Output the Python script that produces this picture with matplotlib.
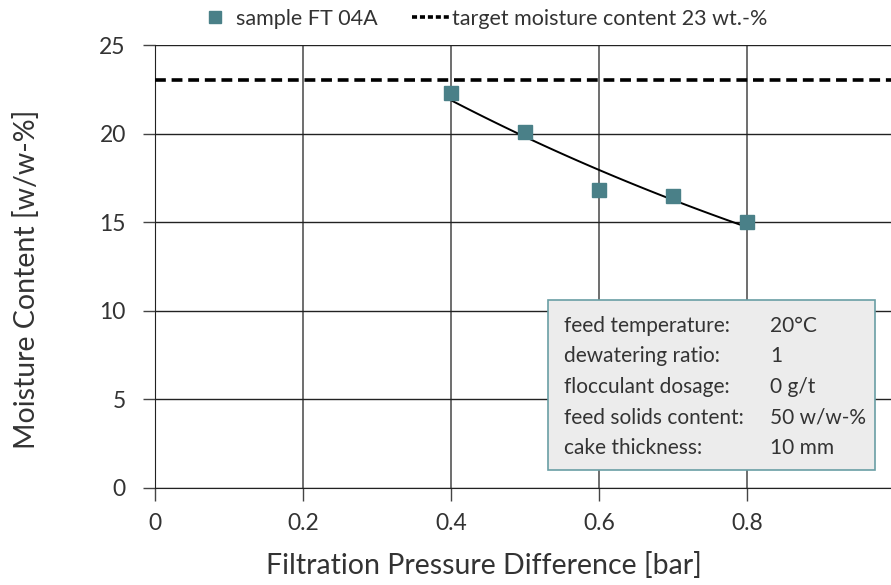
import numpy as np
import matplotlib.pyplot as plt
from matplotlib.lines import Line2D

# measured data
pressure = [0.4, 0.5, 0.6, 0.7, 0.8]
moisture = [22.3, 20.1, 16.8, 16.5, 15.0]
target = 23

box_labels = ["feed temperature:", "dewatering ratio:", "flocculant dosage:",
              "feed solids content:", "cake thickness:"]
box_values = ["20°C", "1", "0 g/t", "50 w/w-%", "10 mm"]

xticks = [0, 0.2, 0.4, 0.6, 0.8]
yticks = [0, 5, 10, 15, 20, 25]

plt.rcParams['font.family'] = ['Lato', 'DejaVu Sans']
textcol = '#333333'
teal = '#4a8088'

fig = plt.figure(figsize=(8.91, 5.85), dpi=100)
ax = fig.add_axes([155 / 891, 97 / 585, 740 / 891, 443 / 585])

# exponential trend line through the points
coef = np.polyfit(pressure, np.log(moisture), 1)
xf = np.linspace(pressure[0], pressure[-1], 100)
yf = np.exp(coef[1]) * np.exp(coef[0] * xf)

ax.axhline(target, color='black', lw=2.6, ls=(0, (3, 1.6)), zorder=3)
ax.plot(xf, yf, color='black', lw=1.4, zorder=4)
ax.plot(pressure, moisture, 's', color=teal, ms=9.5, zorder=5)

ax.set_xlim(0, 1.0)
ax.set_ylim(0, 25)
ax.set_xticks(xticks)
ax.set_xticklabels(["0", "0.2", "0.4", "0.6", "0.8"])
ax.set_yticks(yticks)
ax.grid(axis='x', color='#555555', lw=1.2)
ax.grid(axis='y', color='#222222', lw=1.0)
for s in ['top', 'right']:
    ax.spines[s].set_visible(False)
ax.spines['left'].set_color('#222222')
ax.spines['bottom'].set_color('#222222')
ax.tick_params(length=9, width=1, color='#444444', labelsize=16.5,
               labelcolor=textcol)
ax.tick_params(axis='y', pad=12)
ax.tick_params(axis='x', pad=9)
ax.set_xlabel("Filtration Pressure Difference [bar]", fontsize=20.5,
              color=textcol)
ax.set_ylabel("Moisture Content [w/w-%]", fontsize=20.5, color=textcol)
ax.xaxis.set_label_coords(0.445, -0.145)
ax.yaxis.set_label_coords(-0.155, 0.472)

handles = [Line2D([], [], marker='s', ls='none', color=teal, ms=8),
           Line2D([], [], color='black', lw=2.6, ls=(0, (1.4, 0.8)))]
fig.legend(handles, ["sample FT 04A", "target moisture content 23 wt.-%"],
           loc='center', bbox_to_anchor=(0.541, 0.968), ncol=2, frameon=False,
           fontsize=15.5, handlelength=1.7, handletextpad=0.15,
           columnspacing=1.6, labelcolor=textcol)

# parameter box
box = plt.Rectangle((548 / 891, (585 - 470) / 585), 327 / 891, 170 / 585,
                    transform=fig.transFigure, facecolor='#ececec',
                    edgecolor='#6a9ea4', lw=1.2, zorder=6)
fig.patches.append(box)
for i, (lab, val) in enumerate(zip(box_labels, box_values)):
    yy = (585 - 326 - i * 30.5) / 585
    fig.text(564 / 891, yy, lab, fontsize=15, color=textcol, va='center',
             zorder=7)
    fig.text(770 / 891, yy, val, fontsize=15, color=textcol, va='center',
             zorder=7)

fig.savefig("out.png", dpi=100)
